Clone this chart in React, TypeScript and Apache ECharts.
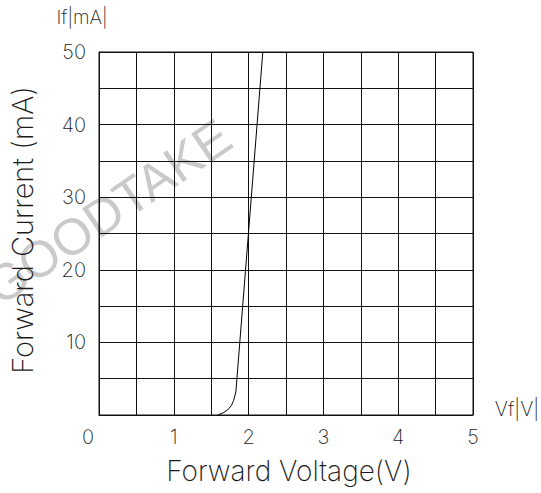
import React, { useEffect, useRef } from "react";
import * as echarts from "echarts";

const forwardVoltage = [1.59, 1.66, 1.72, 1.77, 1.8, 1.83, 2.19];
const forwardCurrent = [0, 0.3, 0.7, 1.3, 2.0, 3.2, 50];
const xTickLabels = ["1", "2", "3", "4", "5"];
const yTickLabels = ["10", "20", "30", "40", "50"];
const originLabel = "0";

const FONT = "Inter, 'DejaVu Sans', sans-serif";
const WM_FONT = "'Liberation Sans', Arial, sans-serif";
const INK = "#1a1a1a";
const W = 200;

export default function App() {
  const ref = useRef<HTMLDivElement>(null);
  useEffect(() => {
    if (!ref.current) return;
    const chart = echarts.init(ref.current, undefined, { renderer: "svg" });
    const data = forwardVoltage.map((v, i) => [v, forwardCurrent[i]]);
    chart.setOption({
      animation: false,
      backgroundColor: "#fff",
      grid: {
        left: 99,
        right: 68,
        top: 52,
        bottom: 78,
        show: true,
        borderColor: "#111",
        borderWidth: 1,
      },
      xAxis: {
        type: "value",
        min: 0,
        max: 5,
        interval: 0.5,
        axisLine: { show: true, lineStyle: { color: "#111", width: 1 } },
        axisTick: { show: false },
        splitLine: { show: true, lineStyle: { color: "#111", width: 1 } },
        axisLabel: {
          margin: 12,
          fontFamily: FONT,
          fontWeight: W,
          fontSize: 20,
          color: INK,
          formatter: (v: number) => {
            const s = String(v);
            return xTickLabels.includes(s) ? s : "";
          },
        },
      },
      yAxis: {
        type: "value",
        min: 0,
        max: 50,
        interval: 5,
        axisLine: { show: true, lineStyle: { color: "#111", width: 1 } },
        axisTick: { show: false },
        splitLine: { show: true, lineStyle: { color: "#111", width: 1 } },
        axisLabel: {
          margin: 13,
          fontFamily: FONT,
          fontWeight: W,
          fontSize: 20,
          color: INK,
          formatter: (v: number) => {
            const s = String(v);
            return yTickLabels.includes(s) ? s : "";
          },
        },
      },
      graphic: [
        {
          type: "text",
          x: 108,
          y: 212,
          rotation: 0.6,
          z: -10,
          silent: true,
          style: {
            text: "GOODTAKE",
            fontFamily: WM_FONT,
            fontSize: 51,
            fill: "#cacaca",
            textAlign: "center",
            textVerticalAlign: "middle",
          },
        },
        {
          type: "text",
          x: 88,
          y: 437,
          style: {
            text: originLabel,
            fontFamily: FONT,
            fontWeight: W,
            fontSize: 20,
            fill: INK,
            textAlign: "center",
            textVerticalAlign: "middle",
          },
        },
        {
          type: "text",
          x: 82,
          y: 17,
          style: {
            text: "If|mA|",
            fontFamily: FONT,
            fontWeight: W,
            fontSize: 19,
            fill: INK,
            textAlign: "center",
            textVerticalAlign: "middle",
          },
        },
        {
          type: "text",
          x: 517,
          y: 409,
          style: {
            text: "Vf|V|",
            fontFamily: FONT,
            fontWeight: W,
            fontSize: 20,
            fill: INK,
            textAlign: "center",
            textVerticalAlign: "middle",
          },
        },
        {
          type: "text",
          x: 289,
          y: 471,
          style: {
            text: "Forward Voltage(V)",
            fontFamily: FONT,
            fontWeight: W,
            fontSize: 28,
            fill: INK,
            textAlign: "center",
            textVerticalAlign: "middle",
          },
        },
        {
          type: "text",
          x: 22,
          y: 230,
          rotation: Math.PI / 2,
          style: {
            text: "Forward Current (mA)",
            fontFamily: FONT,
            fontWeight: W,
            fontSize: 29,
            fill: INK,
            textAlign: "center",
            textVerticalAlign: "middle",
          },
        },
      ],
      series: [
        {
          type: "line",
          data,
          showSymbol: false,
          smooth: false,
          lineStyle: { color: "#000", width: 1 },
          z: 5,
        },
      ],
    });
    return () => chart.dispose();
  }, []);
  return <div ref={ref} style={{ width: 541, height: 493, position: "absolute", left: 0, top: 0 }} />;
}
